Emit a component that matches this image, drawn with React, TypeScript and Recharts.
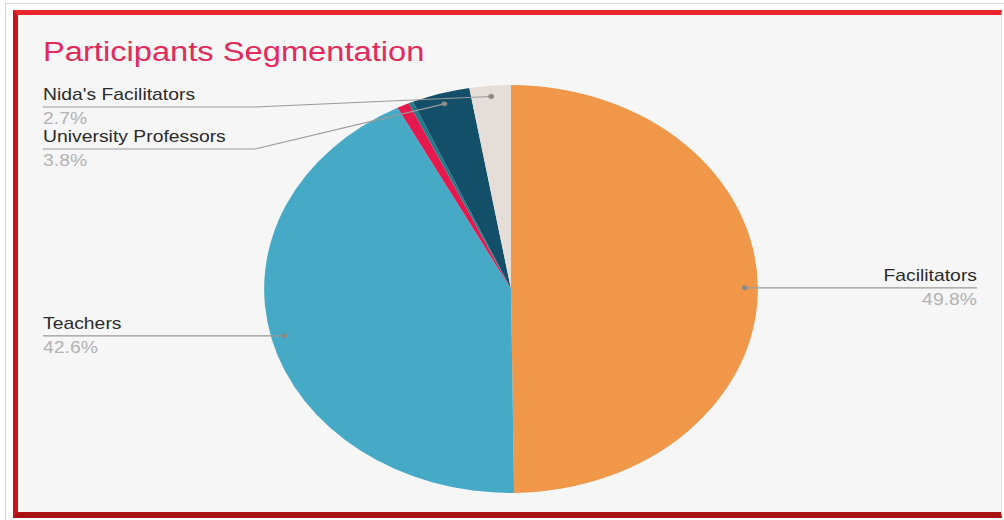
import React from 'react';
import { PieChart, Pie, Cell } from 'recharts';

const categories = ["Facilitators", "Teachers", "Other", "Unspecified", "University Professors", "Nida's Facilitators"];
const shares = [49.8, 42.6, 0.8, 0.3, 3.8, 2.7];
const colors = ["#f0974a", "#46a9c5", "#e5194d", "#237a8c", "#134f69", "#e5ddd7"];
const labelThreshold = 1;

const data = categories.map((name, i) => ({ name, value: shares[i] }));

// layout (the reference is horizontally stretched)
const K = 1.21;
const W = 1004 / K;
const H = 520;
const LEFT_X = 43 / K;
const RIGHT_X = 977 / K;
const ELBOW_X = 255 / K;
const TOP_ROW_Y = 107;
const ROW_GAP = 42;
const ANCHOR_FRAC = 0.947;
const RAD = Math.PI / 180;
const FONT = '"Liberation Sans", Arial, sans-serif';

function renderLabel(props: any) {
  const { cx, cy, midAngle, outerRadius, index, value, name } = props;
  if (value < labelThreshold) return null;
  const ax = cx + outerRadius * ANCHOR_FRAC * Math.cos(-midAngle * RAD);
  const ay = cy + outerRadius * ANCHOR_FRAC * Math.sin(-midAngle * RAD);
  const right = ax > cx;
  let lineY = ay;
  let points: string;
  if (ay < cy - outerRadius * 0.6) {
    const slot = categories.length - 1 - index;
    lineY = TOP_ROW_Y + slot * ROW_GAP;
    points = `${LEFT_X},${lineY} ${ELBOW_X},${lineY} ${ax},${ay}`;
  } else if (right) {
    points = `${ax},${ay} ${RIGHT_X},${ay}`;
  } else {
    points = `${LEFT_X},${ay} ${ax},${ay}`;
  }
  const tx = right ? RIGHT_X : LEFT_X;
  const anchor = right ? 'end' : 'start';
  return (
    <g key={`lbl-${index}`}>
      <polyline points={points} fill="none" stroke="#9a9a9a" strokeWidth={1.2} />
      <circle cx={ax} cy={ay} r={2.4} fill="#8a8a8a" />
      <text x={tx} y={lineY - 6.5} textAnchor={anchor} fontFamily={FONT} fontSize={16} fill="#2a2a2a">
        {name}
      </text>
      <text x={tx} y={lineY + 17.5} textAnchor={anchor} fontFamily={FONT} fontSize={16} fill="#b2b2b2">
        {`${value.toFixed(1)}%`}
      </text>
    </g>
  );
}

export default function App() {
  return (
    <div style={{ position: 'absolute', left: 0, top: 0, width: 1004, height: 520, background: '#ffffff', overflow: 'hidden', fontFamily: FONT }}>
      <div style={{ position: 'absolute', left: 5, top: 3, right: 0, bottom: 0, borderLeft: '1px solid #d6d6d6', borderTop: '1px solid #d6d6d6' }} />
      <div style={{ position: 'absolute', left: 13, top: 10, width: 989, height: 508, boxSizing: 'border-box', borderTop: '5px solid #e8262b', borderLeft: '5px solid #c8161c', borderBottom: '6px solid #a81116', borderRight: '1px solid #efe2e2', background: '#f6f6f6' }} />
      <div style={{ position: 'absolute', left: 0, top: 0, width: W, height: H, transform: `scaleX(${K})`, transformOrigin: '0 0' }}>
        <div style={{ position: 'absolute', left: LEFT_X, top: 39, fontSize: 27, lineHeight: '27px', color: '#e32a5c', whiteSpace: 'nowrap' }}>
          Participants Segmentation
        </div>
        <div style={{ position: 'absolute', left: 0, top: 0 }}>
          <PieChart width={W} height={H} margin={{ top: 0, right: 0, bottom: 0, left: 0 }}>
            <Pie
              data={data}
              dataKey="value"
              nameKey="name"
              cx={511 / K}
              cy={289}
              outerRadius={204}
              startAngle={90}
              endAngle={-270}
              stroke="none"
              isAnimationActive={false}
              label={renderLabel}
              labelLine={false}
            >
              {data.map((d, i) => (
                <Cell key={d.name} fill={colors[i]} />
              ))}
            </Pie>
          </PieChart>
        </div>
      </div>
    </div>
  );
}
